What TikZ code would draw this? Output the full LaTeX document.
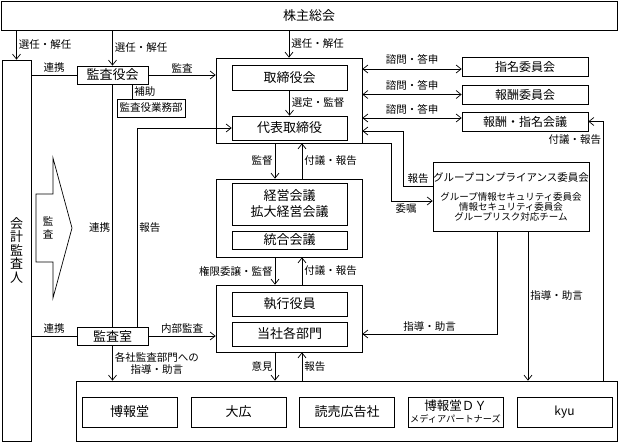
\documentclass[tikz,border=0pt]{standalone}
\usepackage{fontspec}
\setmainfont{Noto Sans CJK JP}
\usetikzlibrary{calc,arrows.meta}

\begin{document}
\begin{tikzpicture}[x=1pt,y=-1pt,line width=0.7pt,
  box/.style={draw, inner sep=0pt, font=\fontsize{13}{16}\selectfont},
  lbl/.style={font=\fontsize{10.5}{12}\selectfont, inner sep=2pt},
  arr/.style={-{Straight Barb[length=5pt,width=8pt]}},
  both/.style={{Straight Barb[length=5pt,width=8pt]}-{Straight Barb[length=5pt,width=8pt]}}]
  \useasboundingbox (0,0) rectangle (619,442);

  \node[box, minimum width=616pt, minimum height=29pt] (agm) at (309,15.5) {株主総会};
  \node[box, minimum width=29pt, minimum height=381pt, align=center, font=\fontsize{13}{13.5}\selectfont] (auditor) at (16.5,250.5) {会\\計\\監\\査\\人};

  \node[box, minimum width=71pt, minimum height=18pt] (kansayakukai) at (112.5,75) {監査役会};
  \node[box, minimum width=68pt, minimum height=18pt, font=\fontsize{10.5}{12}\selectfont] (gyomubu) at (151,108) {監査役業務部};
  \node[box, minimum width=71pt, minimum height=18pt] (auditoffice) at (112.5,336) {監査室};

  \node[box, minimum width=146pt, minimum height=85pt] (boardgrp) at (289,100.5) {};
  \node[box, minimum width=115pt, minimum height=25pt] (board) at (289.5,77.5) {取締役会};
  \node[box, minimum width=115pt, minimum height=24pt] (ceo) at (289.5,128) {代表取締役};

  \node[box, minimum width=146pt, minimum height=78pt] (mgmtgrp) at (289,218) {};
  \node[box, minimum width=115pt, minimum height=42pt, align=center] (mgmt) at (289.5,204) {経営会議\\拡大経営会議};
  \node[box, minimum width=115pt, minimum height=18pt] (integ) at (289.5,240) {統合会議};

  \node[box, minimum width=146pt, minimum height=67pt] (execgrp) at (289,318.5) {};
  \node[box, minimum width=115pt, minimum height=24pt] (officers) at (289.5,304) {執行役員};
  \node[box, minimum width=115pt, minimum height=24pt] (depts) at (289.5,334) {当社各部門};

  \node[box, minimum width=126pt, minimum height=19pt, font=\fontsize{12}{14}\selectfont] (nomcom) at (525,67) {指名委員会};
  \node[box, minimum width=126pt, minimum height=19pt, font=\fontsize{12}{14}\selectfont] (remcom) at (525,94.5) {報酬委員会};
  \node[box, minimum width=126pt, minimum height=19pt, font=\fontsize{12}{14}\selectfont] (rncom) at (525,121.5) {報酬・指名会議};

  \node[box, minimum width=152pt, minimum height=69pt, align=center, font=\fontsize{9.5}{10}\selectfont] (comp) at (511,196.5)
    {{\fontsize{10.5}{12}\selectfont グループコンプライアンス委員会}\\[9pt]
     グループ情報セキュリティ委員会\\情報セキュリティ委員会\\グループリスク対応チーム};

  \node[box, minimum width=541pt, minimum height=60pt] (groupco) at (346.5,411) {};
  \node[box, minimum width=95pt, minimum height=30pt] (hakuhodo) at (129.5,412) {博報堂};
  \node[box, minimum width=95pt, minimum height=30pt] (daiko) at (238.5,412) {大広};
  \node[box, minimum width=95pt, minimum height=30pt] (yomiko) at (347,412) {読売広告社};
  \node[box, minimum width=95pt, minimum height=30pt, align=center, font=\fontsize{12.5}{12}\selectfont] (hdymp) at (455.5,412)
    {博報堂ＤＹ\\{\fontsize{9.2}{10}\selectfont メディアパートナーズ}};
  \node[box, minimum width=95pt, minimum height=30pt, font=\fontsize{12}{14}\selectfont] (kyu) at (564.5,412) {kyu};

  \draw (36,194) -- (53,194) -- (53,158) -- (72,228) -- (53,298) -- (53,262) -- (36,262) -- cycle;
  \node[align=center, inner sep=0pt, font=\fontsize{10.5}{13}\selectfont] (kansa) at (48,228) {監\\査};

  \draw[arr] (agm.south -| auditor.north) -- (auditor.north) node[lbl, midway, right] {選任・解任};
  \draw[arr] (agm.south -| kansayakukai.north) -- (kansayakukai.north) node[lbl, midway, right] {選任・解任};
  \draw[arr] (agm.south -| boardgrp.north) -- (boardgrp.north) node[lbl, midway, right] {選任・解任};

  \draw (auditor.east |- kansayakukai.west) -- (kansayakukai.west) node[lbl, midway, above] {連携};
  \draw[arr] (kansayakukai.east) -- (kansayakukai.east -| boardgrp.west) node[lbl, midway, above] {監査};
  \draw ([xshift=19.5pt]kansayakukai.south) -- ([xshift=19.5pt]kansayakukai.south |- gyomubu.north) node[lbl, midway, right] {補助};
  \draw[arr] (board) -- (ceo) node[lbl, midway, right] {選定・監督};

  \draw[both] ([yshift=-2pt]nomcom.west -| boardgrp.east) -- ([yshift=-2pt]nomcom.west) node[lbl, midway, above=2pt] {諮問・答申};
  \draw[both] (remcom.west -| boardgrp.east) -- (remcom.west) node[lbl, midway, above=2pt] {諮問・答申};
  \draw[both] ([yshift=3.5pt]rncom.west -| boardgrp.east) -- ([yshift=3.5pt]rncom.west) node[lbl, midway, above=1pt] {諮問・答申};
  \draw[arr] ([xshift=-14pt]groupco.north east) |- (rncom.east) node[lbl, pos=0.466, left] {付議・報告};

  \draw[arr] ($(comp.west)+(0,-10.5)$) -- ++(-29,0) node[lbl, midway, above] {報告}
    |- ($(ceo.east -| boardgrp.east)+(0,3)$);
  \draw[arr] (boardgrp.south east) -- ++(29,0) |- ($(comp.west)+(0,4.5)$) node[lbl, pos=0.68, below] {委嘱};
  \draw[arr] ([xshift=-14pt]comp.south) |- (depts.east -| execgrp.east) node[lbl, pos=0.75, above] {指導・助言};
  \draw[arr] ([xshift=17pt]comp.south) -- ([xshift=17pt]comp.south |- groupco.north) node[lbl, pos=0.43, right] {指導・助言};

  \draw[arr] ([xshift=-14pt]boardgrp.south) -- ([xshift=-14pt]mgmtgrp.north) node[lbl, midway, left] {監督};
  \draw[arr] ([xshift=13pt]mgmtgrp.north) -- ([xshift=13pt]boardgrp.south) node[lbl, midway, right] {付議・報告};
  \draw[arr] ([xshift=-14pt]mgmtgrp.south) -- ([xshift=-14pt]execgrp.north) node[lbl, midway, left] {権限委譲・監督};
  \draw[arr] ([xshift=13pt]execgrp.north) -- ([xshift=13pt]mgmtgrp.south) node[lbl, midway, right] {付議・報告};
  \draw[arr] ([xshift=-14pt]execgrp.south) -- ([xshift=-14pt]execgrp.south |- groupco.north) node[lbl, midway, left] {意見};
  \draw[arr] ([xshift=13pt]execgrp.south |- groupco.north) -- ([xshift=13pt]execgrp.south) node[lbl, midway, right] {報告};

  \draw (kansayakukai.south) -- (auditoffice.north) node[lbl, pos=0.59, left] {連携};
  \draw[arr] ([xshift=24.5pt]auditoffice.north) |- (ceo.west) node[lbl, pos=0.25, right] {報告};
  \draw (auditor.east |- auditoffice.west) -- (auditoffice.west) node[lbl, midway, above] {連携};
  \draw[arr] (auditoffice.east) -- (auditoffice.east -| execgrp.west) node[lbl, midway, above] {内部監査};
  \draw[arr] (auditoffice.south) -- (auditoffice.south |- groupco.north) node[lbl, midway, right, align=center] {各社監査部門への\\指導・助言};
\end{tikzpicture}
\end{document}
